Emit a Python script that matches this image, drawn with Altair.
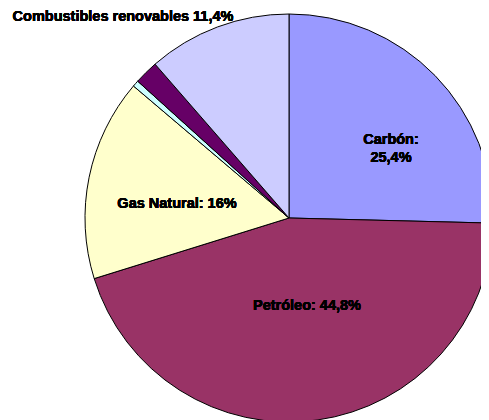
import altair as alt
import pandas as pd

# Data
fuentes = ["Carbón", "Petróleo", "Gas Natural", "Nuclear", "Hidráulica", "Combustibles renovables"]
porcentajes = [25.4, 44.8, 16.0, 0.5, 1.9, 11.4]
colores = ["#9999FF", "#993366", "#FFFFCC", "#CCFFFF", "#660066", "#CCCCFF"]
orden = [1, 2, 3, 4, 5, 6]

df = pd.DataFrame({"fuente": fuentes, "pct": porcentajes, "orden": orden})

CX, CY, R = 281, 210, 204

pie = alt.Chart(df).mark_arc(radius=R, stroke="black", strokeWidth=1).encode(
    theta=alt.Theta("pct:Q", stack=True),
    order=alt.Order("orden:Q"),
    color=alt.Color("fuente:N", scale=alt.Scale(domain=fuentes, range=colores), legend=None),
    x=alt.value(CX),
    y=alt.value(CY),
)

def label(text, x, y):
    return alt.Chart(df).mark_text(
        text=text, font="Liberation Sans", fontSize=14.5, fontWeight="bold",
        color="black", align="center", baseline="middle", lineHeight=18,
    ).encode(x=alt.value(x), y=alt.value(y))

labels = [
    label(["Carbón:", "25,4%"], 383, 132),
    label("Petróleo: 44,8%", 299, 298),
    label("Gas Natural: 16%", 169, 196),
    label("Combustibles renovables 11,4%", 115, 9),
]

chart = alt.layer(pie, *labels).properties(
    width=473, height=412, autosize="none", padding=0
).configure_view(strokeWidth=0)

chart.save("out.html", embed_options={"renderer": "svg", "actions": False})
